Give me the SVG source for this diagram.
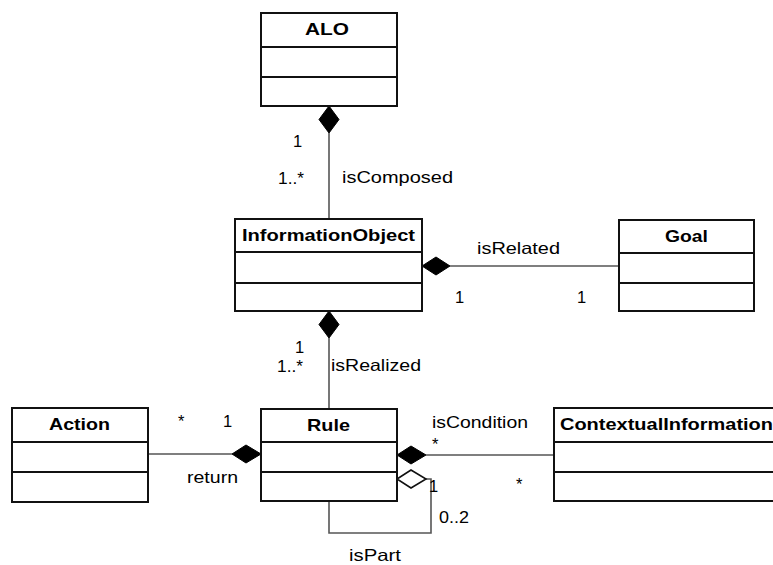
<svg xmlns="http://www.w3.org/2000/svg" width="773" height="565" viewBox="0 0 773 565">
<style>
.box{fill:#fff;stroke:#111;stroke-width:2}
.sep{stroke:#111;stroke-width:2}
.cn{fill:none;stroke:#555;stroke-width:1.6}
.fd{fill:#000;stroke:#000;stroke-width:1}
.hd{fill:#fff;stroke:#111;stroke-width:1.6}
.t{font-family:"Liberation Sans",Arial,sans-serif;font-size:16.5px;fill:#000}
.b{font-family:"Liberation Sans",Arial,sans-serif;font-size:16.5px;font-weight:bold;fill:#000;text-anchor:start}
</style>
<rect width="773" height="565" fill="#fff"/>
<g id="connectors">
<path class="cn" d="M329,133 V219"/>
<path class="fd" d="M329,106 L339,119.5 L329,133 L319,119.5 Z"/>
<path class="cn" d="M450,266 H619"/>
<path class="fd" d="M422,266 L436,257 L450,266 L436,275 Z"/>
<path class="cn" d="M329,338 V409"/>
<path class="fd" d="M329,311 L339,324.5 L329,338 L319,324.5 Z"/>
<path class="cn" d="M148,454 H232"/>
<path class="fd" d="M232,454 L246,445 L261,454 L246,463 Z"/>
<path class="cn" d="M426,455 H554"/>
<path class="fd" d="M397,455 L411,446 L426,455 L411,464 Z"/>
<path class="cn" d="M426,479 H431 V533 H329 V501"/>
<path class="hd" d="M397,479 L411,470 L426,479 L411,488 Z"/>
<g id="labels">
<text class="t" x="293" y="147">1</text>
<text class="t" x="278" y="184" textLength="26" lengthAdjust="spacingAndGlyphs">1..*</text>
<text class="t" x="342" y="183" textLength="111" lengthAdjust="spacingAndGlyphs">isComposed</text>
<text class="t" x="477" y="254" textLength="83" lengthAdjust="spacingAndGlyphs">isRelated</text>
<text class="t" x="455" y="303">1</text>
<text class="t" x="577" y="303">1</text>
<text class="t" x="295" y="353">1</text>
<text class="t" x="277" y="372" textLength="26" lengthAdjust="spacingAndGlyphs">1..*</text>
<text class="t" x="331" y="371" textLength="90" lengthAdjust="spacingAndGlyphs">isRealized</text>
<text class="t" x="178" y="427">*</text>
<text class="t" x="223" y="427">1</text>
<text class="t" x="187" y="483" textLength="51" lengthAdjust="spacingAndGlyphs">return</text>
<text class="t" x="432" y="428" textLength="96" lengthAdjust="spacingAndGlyphs">isCondition</text>
<text class="t" x="432" y="450">*</text>
<text class="t" x="516" y="490">*</text>
<text class="t" x="429" y="492">1</text>
<text class="t" x="439" y="523" textLength="30" lengthAdjust="spacingAndGlyphs">0..2</text>
<text class="t" x="349" y="561" textLength="52" lengthAdjust="spacingAndGlyphs">isPart</text>
</g>
</g>
<g id="ALO">
<rect class="box" x="261" y="13" width="136" height="93"/>
<path class="sep" d="M261,47 H397 M261,77 H397"/>
<text class="b" x="305" y="35" textLength="44" lengthAdjust="spacingAndGlyphs">ALO</text>
</g>
<g id="InformationObject">
<rect class="box" x="235" y="219" width="187" height="92"/>
<path class="sep" d="M235,252 H422 M235,283 H422"/>
<text class="b" x="242" y="241" textLength="173" lengthAdjust="spacingAndGlyphs">InformationObject</text>
</g>
<g id="Goal">
<rect class="box" x="619" y="220" width="135" height="91"/>
<path class="sep" d="M619,253 H754 M619,283 H754"/>
<text class="b" x="665" y="242" textLength="43" lengthAdjust="spacingAndGlyphs">Goal</text>
</g>
<g id="Action">
<rect class="box" x="12" y="408" width="136" height="94"/>
<path class="sep" d="M12,442 H148 M12,472 H148"/>
<text class="b" x="49" y="430" textLength="61" lengthAdjust="spacingAndGlyphs">Action</text>
</g>
<g id="Rule">
<rect class="box" x="261" y="409" width="136" height="92"/>
<path class="sep" d="M261,442 H397 M261,472 H397"/>
<text class="b" x="307" y="431" textLength="43" lengthAdjust="spacingAndGlyphs">Rule</text>
</g>
<g id="ContextualInformation">
<rect class="box" x="554" y="408" width="240" height="93"/>
<path class="sep" d="M554,442 H794 M554,472 H794"/>
<text class="b" x="560" y="430" textLength="213" lengthAdjust="spacingAndGlyphs">ContextualInformation</text>
</g>
</svg>
